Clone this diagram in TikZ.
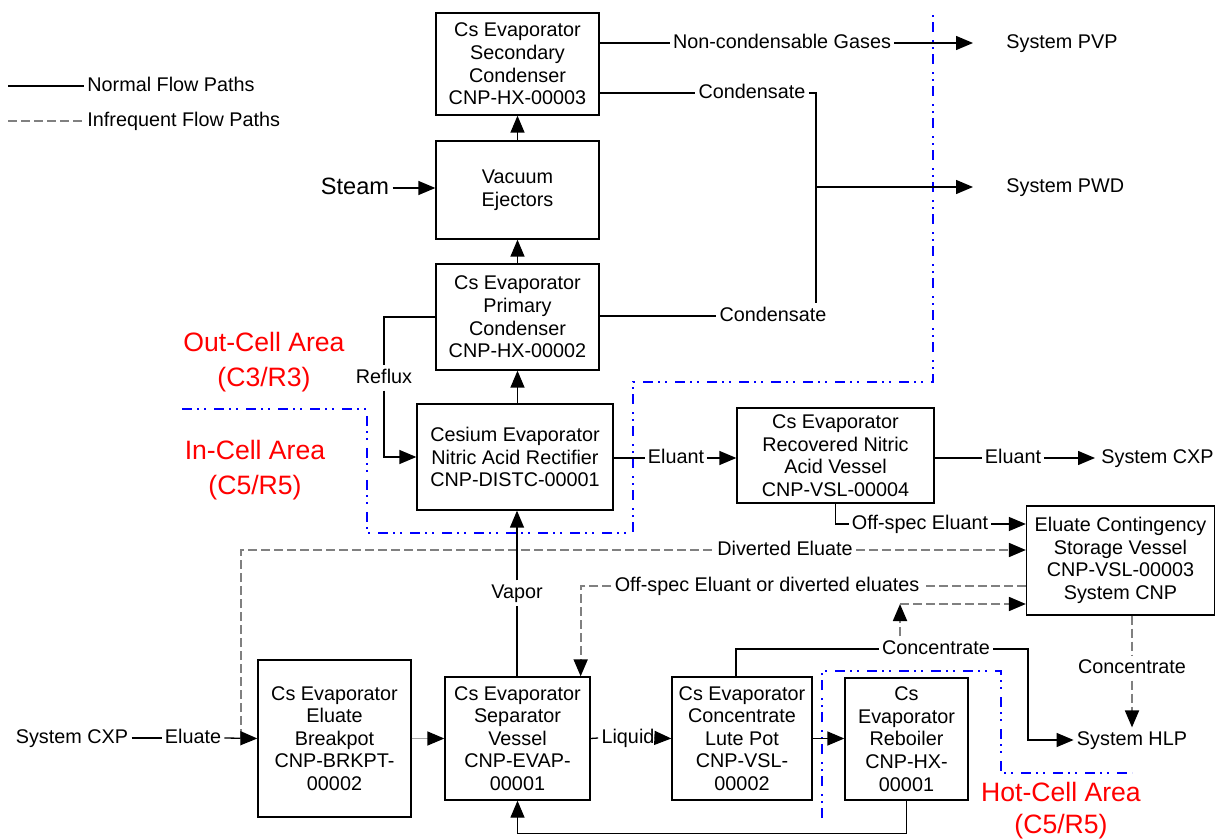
\documentclass[tikz,border=0pt]{standalone}
\usepackage{fontspec}
\setmainfont{Liberation Sans}
\usetikzlibrary{arrows.meta,calc}

\begin{document}
\begin{tikzpicture}[x=0.5pt,y=-0.5pt,
  font=\fontsize{9.9}{11.3}\selectfont,
  box/.style={draw, line width=0.65pt, align=center, inner sep=0pt},
  lbl/.style={inner sep=1.5pt, text height=7.2pt, text depth=2pt},
  flow/.style={line width=0.65pt},
  tip/.style={-{Triangle[length=8.5pt,width=7pt,color=black]}},
  arr/.style={flow, tip},
  rare/.style={line width=0.9pt, gray, dash pattern=on 4.5pt off 2pt},
  rarearr/.style={rare, tip},
  zone/.style={blue, line width=1pt, dash pattern=on 5pt off 2.5pt on 1pt off 2.5pt on 1pt off 4pt},
  area/.style={red, align=center, font=\fontsize{13.3}{17.5}\selectfont}
]
\useasboundingbox (0,0) rectangle (1216,839);

% legend
\coordinate (l1a) at (8,86);
\node[lbl, anchor=west] (l1) at (84,86) {Normal Flow Paths};
\draw[flow] (l1a) -- (l1.west);
\coordinate (l2a) at (8,121);
\node[lbl, anchor=west] (l2) at (84,121) {Infrequent Flow Paths};
\draw[rare] (l2a) -- (l2.west);

% equipment
\node[box, minimum width=81.5pt, minimum height=51pt] (sec) at (517.5,64)
  {Cs Evaporator\\Secondary\\Condenser\\CNP-HX-00003};
\node[box, minimum width=81.5pt, minimum height=49pt] (ej) at (517.5,190)
  {Vacuum\\Ejectors};
\node[box, minimum width=81.5pt, minimum height=53pt] (prim) at (517.5,317)
  {Cs Evaporator\\Primary\\Condenser\\CNP-HX-00002};
\node[box, minimum width=98pt, minimum height=53pt] (rect) at (515,457)
  {Cesium Evaporator\\Nitric Acid Rectifier\\CNP-DISTC-00001};
\node[box, minimum width=98.5pt, minimum height=47.5pt] (rec) at (835.5,455.5)
  {Cs Evaporator\\Recovered Nitric\\Acid Vessel\\CNP-VSL-00004};
\node[box, minimum width=94pt, minimum height=54.5pt] (cont) at (1120.5,560.5)
  {Eluate Contingency\\Storage Vessel\\CNP-VSL-00003\\System CNP};
\node[box, minimum width=76.5pt, minimum height=78.5pt] (brk) at (334.5,738.5)
  {Cs Evaporator\\Eluate\\Breakpot\\CNP-BRKPT-\\00002};
\node[box, minimum width=72.5pt, minimum height=61.5pt] (sep) at (517.5,738.5)
  {Cs Evaporator\\Separator\\Vessel\\CNP-EVAP-\\00001};
\node[box, minimum width=70pt, minimum height=61.5pt] (lute) at (742,738.5)
  {Cs Evaporator\\Concentrate\\Lute Pot\\CNP-VSL-\\00002};
\node[box, minimum width=61.5pt, minimum height=61pt] (reb) at (906.5,739)
  {Cs\\Evaporator\\Reboiler\\CNP-HX-\\00001};

% area boundaries
\draw[zone] (182,409) -- (367,409) -- (367,533) -- (633,533) -- (633,382) -- (933,382) -- (933,13);
\draw[zone] (822,818) -- (822,671) -- (1001,671) -- (1001,773) -- (1132,773);
\node[area] (outcell) at (264,362) {Out-Cell Area\\(C3/R3)};
\node[area] (incell) at (255,470) {In-Cell Area\\(C5/R5)};
\node[area, font=\fontsize{13.3}{16}\selectfont] (hotcell) at (1061,811) {Hot-Cell Area\\(C5/R5)};

% off-gas train
\node[lbl] (ncg) at (782,43) {Non-condensable Gases};
\node[lbl, anchor=west] (pvp) at (1003,43) {System PVP};
\draw[flow] (sec.east |- ncg) -- (ncg.west);
\draw[arr, shorten >=15pt] (ncg.east) -- (pvp.west);

\node[lbl] (cnd1) at (752,93) {Condensate};
\node[lbl] (cnd2) at (773,316) {Condensate};
\coordinate (pj) at (816,187);
\node[lbl, anchor=west] (pwd) at (1003,187) {System PWD};
\draw[flow] (sec.east |- cnd1) -- (cnd1.west);
\draw[flow] (cnd1.east) -| (cnd2.north -| pj);
\draw[arr, shorten >=15pt] (pj) -- (pwd.west);
\draw[flow] (prim.east |- cnd2) -- (cnd2.west);

\node[lbl, font=\fontsize{11.8}{14}\selectfont, text height=8.6pt, text depth=2.4pt] (steam) at (355,188) {Steam};
\draw[arr] (steam.east) -- (ej.west |- steam);

\draw[arr] (ej.north) -- (sec.south);
\draw[arr] (prim.north) -- (ej.south);
\draw[arr] (rect.north -| prim.south) -- (prim.south);

\node[lbl] (rfx) at (384,378) {Reflux};
\draw[flow] (prim.west) -| (rfx.north);
\draw[arr] (rfx.south) |- (rect.west);

% eluant recovery
\node[lbl] (el1) at (676,458) {Eluant};
\draw[flow] (rect.east |- el1) -- (el1.west);
\draw[arr] (el1.east) -- (rec.west |- el1);
\node[lbl] (el2) at (1013,458) {Eluant};
\node[inner sep=0pt, text height=7.2pt, text depth=2pt, anchor=west] (cxp2) at (1101,458) {System CXP};
\draw[flow] (rec.east |- el2) -- (el2.west);
\draw[arr, shorten >=3pt] (el2.east) -- (cxp2.west);

\node[lbl] (ose) at (920,524) {Off-spec Eluant};
\draw[flow] (rec.south) |- (ose.west);
\draw[arr] (ose.east) -- (cont.west |- ose);

% infrequent paths
\coordinate (dv) at (241,738);
\node[lbl] (de) at (785,550) {Diverted Eluate};
\draw[rare] (dv) |- (de.west);
\draw[rarearr] (de.east) -- (cont.west |- de);

\node[lbl] (oe) at (767,586) {Off-spec Eluant or diverted eluates};
\draw[rare] (cont.west |- oe) -- (oe.east);
\draw[rarearr] (oe.west) -| ($(sep.north east)+(-10,0)$);

% concentrate
\node[lbl] (conc1) at (936,649) {Concentrate};
\coordinate (hj) at (1028,740);
\node[lbl] (hlp) at (1132,740) {System HLP};
\draw[flow] ($(lute.north)+(-6,0)$) |- (conc1.west);
\draw[arr] (conc1.east) -| (hj) -- (hlp.west);
\coordinate (cj) at (900,604);
\draw[rarearr] (conc1.north -| cj) -- (cj);
\draw[rarearr] (cj) -- (cont.west |- cj);
\node[lbl] (conc2) at (1132,668) {Concentrate};
\draw[rare] (cont.south -| conc2) -- (conc2.north);
\draw[rarearr] (conc2.south) -- (hlp.north);

% evaporator loop
\node[lbl] (cxp1) at (72,738) {System CXP};
\node[lbl] (elu) at (193,738) {Eluate};
\draw[flow] (cxp1.east) -- (elu.west);
\draw[arr] (elu.east) -- (brk.west);
\draw[flow, gray!70, tip] (brk.east) -- (sep.west);
\node[lbl] (liq) at (628,738) {Liquid};
\draw[flow] (sep.east) -- (liq.west);
\draw[arr] (liq.east) -- (lute.west);
\draw[arr] (lute.east) -- (reb.west |- lute.east);
\draw[arr] (reb.south) |- ($(sep.south)+(0,33)$) -- (sep.south);
\node[lbl] (vap) at (517,593) {Vapor};
\draw[flow] (sep.north -| vap) -- (vap.south);
\draw[arr] (vap.north) -- (rect.south -| vap);
\end{tikzpicture}
\end{document}
